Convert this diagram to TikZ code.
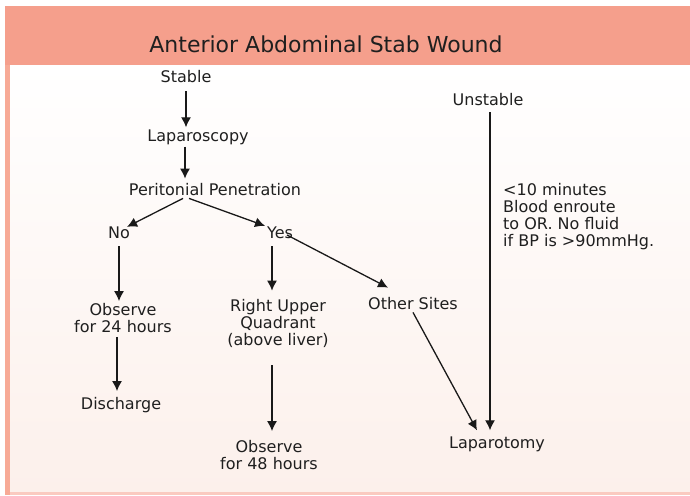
\documentclass[tikz,border=0pt]{standalone}
\usepackage{fontspec}
\setmainfont{DejaVu Sans}
\usepackage{tikz}
\usetikzlibrary{arrows.meta}

\definecolor{headsalmon}{RGB}{245,159,140}
\definecolor{sidesalmon}{RGB}{247,170,150}
\definecolor{footpink}{RGB}{250,202,192}
\definecolor{bodypink}{RGB}{252,240,235}

\tikzset{
  lbl/.style={inner sep=2pt, align=center, text=black!88, font=\fontsize{16}{17}\selectfont},
  flow/.style={->, line width=1.3pt, draw=black!90},
}

\begin{document}
\begin{tikzpicture}[x=1pt, y=-1pt, >={Latex[length=10pt,width=10pt]}]
        \useasboundingbox (0,0) rectangle (690,495);
        % Background
        \shade[top color=white, bottom color=bodypink] (10,65) rectangle (690,492);
        \fill[headsalmon] (5,6) rectangle (690,65);
        \fill[sidesalmon] (5,65) rectangle (10,495);
        \fill[footpink] (10,492) rectangle (690,495);
        \node (title) [text=black!88, font=\fontsize{22}{24}\selectfont] at (326,44) {Anterior Abdominal Stab Wound};

        % Components
        \node (stable) [lbl] at (186,77) {Stable};
        \node (lap) [lbl] at (198,137) {Laparoscopy};
        \node (per) [lbl] at (215,190) {Peritonial Penetration};
        \node (no) [lbl] at (119,233) {No};
        \node (yes) [lbl] at (280,233) {Yes};
        \node (obs24) [lbl] at (123,318) {Observe\\for 24 hours};
        \node (ruq) [lbl] at (278,323) {Right Upper\\Quadrant\\(above liver)};
        \node (other) [lbl] at (413,304) {Other Sites};
        \node (dis) [lbl] at (121,405) {Discharge};
        \node (obs48) [lbl] at (269,455) {Observe\\for 48 hours};
        \node (unst) [lbl] at (488,100) {Unstable};
        \node (lapt) [lbl] at (497,444) {Laparotomy};
        \node (note) [lbl, align=left, anchor=north west] at (501,181) {<10 minutes\\Blood enroute\\to OR. No fluid\\if BP is >90mmHg.};

        % Arrows
        \draw[flow, shorten <=6pt] (stable) -- (stable |- lap.north);
        \draw[flow] ([xshift=-13pt]lap.south) -- ([xshift=-30pt,yshift=3pt]per.north);
        \draw[flow] ([xshift=-32pt]per.south) -- ([xshift=8pt,yshift=-2pt]no.north);
        \draw[flow] ([xshift=-26pt]per.south) -- ([xshift=-15pt,yshift=-1pt]yes.north);
        \draw[flow] ([xshift=7pt,yshift=-2pt]yes.center) -- ([xshift=-25pt,yshift=8pt]other.north);
        \draw[flow, shorten <=5pt] (no) -- (no |- obs24.north);
        \draw[flow] ([xshift=-6pt,yshift=-2pt]obs24.south) -- ([xshift=-4pt,yshift=4pt]dis.north);
        \draw[flow, shorten <=5pt] ([xshift=-8pt]yes.south) -- ([xshift=-6pt,yshift=6pt]ruq.north);
        \draw[flow, shorten <=16pt, shorten >=7pt] ([xshift=-6pt]ruq.south) -- ([xshift=3pt]obs48.north);
        \draw[flow] (other.south) -- ([xshift=-20pt,yshift=4pt]lapt.north);
        \draw[flow, shorten <=4pt] ([xshift=2pt]unst.south) -- ([xshift=-7pt,yshift=4pt]lapt.north);
    \end{tikzpicture}
\end{document}
